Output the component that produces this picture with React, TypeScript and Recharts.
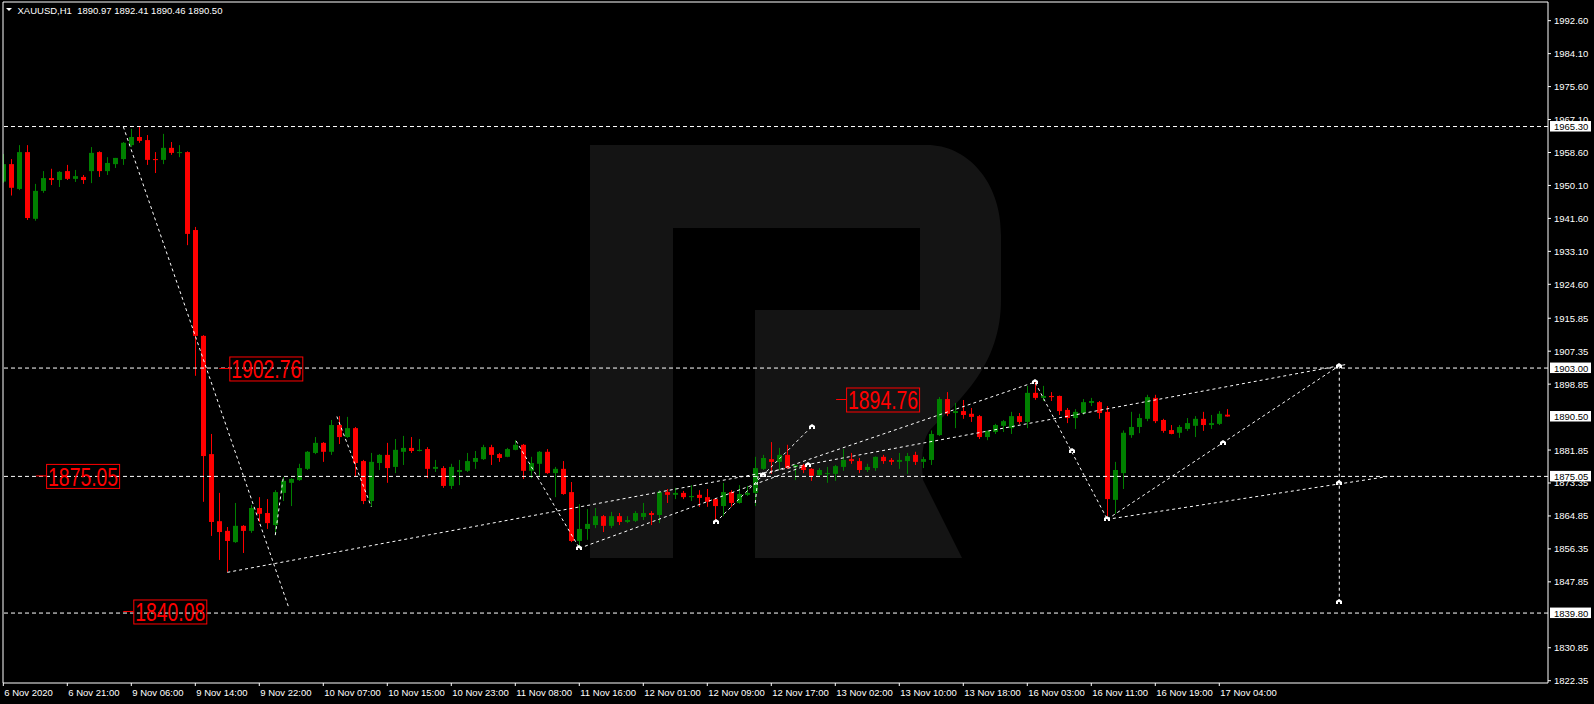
import React from "react";
import { ComposedChart, Bar, XAxis, YAxis, ReferenceLine, ReferenceDot } from "recharts";

const openPrices = [
  1951.1, 1955.6, 1949.2, 1958.7, 1941.5, 1948.7, 1952.0, 1951.5, 1953.8, 1951.8,
  1952.3, 1953.8, 1958.7, 1953.8, 1955.6, 1956.9, 1960.5, 1962.6, 1961.8, 1956.9,
  1956.7, 1959.8, 1958.5, 1958.7, 1938.6, 1911.3, 1880.8, 1863.5, 1861.0, 1858.1,
  1862.3, 1861.0, 1866.9, 1865.6, 1862.5, 1870.8, 1873.4, 1874.1, 1877.0, 1881.1,
  1883.7, 1881.4, 1888.3, 1885.2, 1887.5, 1879.0, 1868.7, 1878.5, 1880.6, 1877.5,
  1881.4, 1882.4, 1881.6, 1882.1, 1877.0, 1877.2, 1872.6, 1876.2, 1876.5, 1878.8,
  1879.5, 1882.6, 1880.8, 1880.1, 1881.9, 1883.2, 1876.5, 1878.3, 1881.4, 1875.9,
  1877.0, 1871.0, 1858.4, 1861.5, 1862.5, 1864.8, 1862.3, 1864.8, 1863.3, 1863.6,
  1864.6, 1865.6, 1865.1, 1871.0, 1870.3, 1870.8, 1869.7, 1870.3, 1869.7, 1869.2,
  1867.4, 1871.0, 1868.2, 1870.3, 1870.8, 1877.0, 1879.5, 1878.8, 1880.6, 1877.5,
  1878.0, 1877.0, 1875.4, 1875.7, 1875.7, 1877.5, 1879.5, 1879.0, 1876.7, 1877.2,
  1880.1, 1879.3, 1878.8, 1879.0, 1880.6, 1878.8, 1879.3, 1885.7, 1895.0, 1891.4,
  1891.9, 1891.2, 1890.6, 1885.2, 1886.5, 1888.1, 1887.5, 1890.6, 1889.1, 1896.6,
  1895.3, 1895.8, 1895.8, 1892.2, 1890.1, 1891.4, 1894.0, 1894.2, 1891.7, 1869.0,
  1875.9, 1885.7, 1887.8, 1889.9, 1895.3, 1889.6, 1887.0, 1886.3, 1887.3, 1888.1,
  1889.9, 1888.3, 1888.6, 1890.97,
];
const highPrices = [
  1958.2, 1956.9, 1960.5, 1960.5, 1950.5, 1953.8, 1954.4, 1953.8, 1955.4, 1954.1,
  1952.8, 1960.0, 1958.9, 1957.4, 1957.2, 1961.3, 1964.7, 1965.3, 1963.1, 1958.7,
  1963.4, 1961.3, 1960.5, 1958.9, 1939.4, 1911.5, 1886.0, 1870.8, 1862.0, 1868.2,
  1862.5, 1867.7, 1869.7, 1869.2, 1871.5, 1874.9, 1874.6, 1878.3, 1881.6, 1885.2,
  1883.9, 1889.6, 1890.6, 1890.4, 1887.8, 1879.3, 1881.1, 1880.8, 1883.7, 1884.7,
  1885.5, 1885.2, 1884.7, 1882.6, 1879.3, 1877.7, 1878.3, 1879.3, 1881.1, 1881.6,
  1883.2, 1883.2, 1881.1, 1882.4, 1884.4, 1883.4, 1880.1, 1881.6, 1882.1, 1877.5,
  1879.0, 1873.6, 1867.9, 1866.6, 1866.9, 1865.1, 1865.9, 1865.6, 1864.8, 1866.1,
  1868.2, 1866.1, 1871.5, 1871.8, 1872.1, 1871.3, 1872.8, 1871.5, 1871.8, 1869.5,
  1873.4, 1871.5, 1872.8, 1872.6, 1880.1, 1880.6, 1883.9, 1882.4, 1883.2, 1878.1,
  1878.3, 1877.2, 1877.2, 1877.5, 1878.0, 1882.1, 1881.1, 1879.8, 1878.3, 1880.2,
  1880.6, 1879.8, 1881.1, 1881.1, 1881.4, 1880.1, 1886.9, 1895.5, 1896.8, 1894.0,
  1894.76, 1892.7, 1890.9, 1886.9, 1888.6, 1889.6, 1891.7, 1891.4, 1898.4, 1899.4,
  1898.4, 1896.8, 1895.9, 1892.7, 1892.4, 1895.0, 1895.3, 1894.5, 1893.2, 1878.8,
  1886.9, 1891.7, 1891.2, 1896.1, 1896.1, 1889.9, 1888.3, 1888.3, 1890.1, 1890.6,
  1891.7, 1890.9, 1891.9, 1892.41,
];
const lowPrices = [
  1950.8, 1947.5, 1948.9, 1941.2, 1941.0, 1948.2, 1950.2, 1949.7, 1951.5, 1951.0,
  1950.5, 1950.7, 1952.3, 1952.8, 1954.6, 1955.4, 1960.0, 1961.1, 1955.4, 1953.3,
  1955.6, 1958.0, 1957.4, 1934.7, 1901.0, 1868.5, 1859.7, 1853.5, 1850.4, 1857.9,
  1855.3, 1860.5, 1863.3, 1861.5, 1859.9, 1868.7, 1867.4, 1873.9, 1876.7, 1880.8,
  1878.8, 1880.6, 1883.4, 1885.0, 1874.9, 1867.9, 1867.2, 1876.7, 1873.4, 1875.9,
  1878.0, 1881.1, 1881.5, 1874.6, 1876.2, 1872.1, 1871.8, 1872.8, 1876.2, 1877.0,
  1879.3, 1878.0, 1878.8, 1880.0, 1881.8, 1874.4, 1874.6, 1874.9, 1875.7, 1869.7,
  1870.3, 1858.1, 1856.8, 1858.7, 1861.7, 1860.7, 1861.7, 1862.5, 1863.0, 1863.3,
  1863.8, 1862.5, 1863.0, 1868.2, 1869.2, 1869.2, 1868.7, 1867.2, 1867.2, 1863.3,
  1864.8, 1867.2, 1868.0, 1870.0, 1867.4, 1876.7, 1875.7, 1876.7, 1877.0, 1874.1,
  1875.9, 1873.9, 1874.9, 1873.4, 1873.9, 1876.5, 1878.3, 1875.9, 1876.2, 1876.5,
  1878.3, 1878.0, 1877.0, 1875.7, 1878.0, 1877.2, 1878.0, 1885.5, 1890.6, 1887.5,
  1889.9, 1889.1, 1884.7, 1884.4, 1886.0, 1886.5, 1886.0, 1888.6, 1887.5, 1894.8,
  1894.5, 1894.5, 1890.9, 1888.8, 1887.3, 1890.9, 1893.2, 1889.9, 1864.8, 1865.4,
  1871.8, 1885.0, 1886.2, 1889.3, 1888.8, 1886.3, 1885.9, 1885.0, 1886.8, 1885.2,
  1886.8, 1887.3, 1888.3, 1890.46,
];
const closePrices = [
  1955.6, 1949.5, 1958.7, 1941.7, 1948.7, 1952.0, 1951.5, 1953.6, 1951.8, 1952.5,
  1951.5, 1958.5, 1953.8, 1955.9, 1957.2, 1961.1, 1962.6, 1961.6, 1956.7, 1956.7,
  1959.8, 1958.5, 1958.7, 1937.6, 1911.3, 1880.3, 1863.3, 1860.7, 1858.4, 1862.3,
  1861.0, 1866.9, 1865.4, 1863.0, 1871.0, 1873.9, 1874.4, 1877.2, 1881.4, 1883.7,
  1881.4, 1888.3, 1885.2, 1887.5, 1878.5, 1868.7, 1878.8, 1880.6, 1877.2, 1881.9,
  1882.4, 1881.6, 1881.9, 1877.0, 1877.5, 1872.6, 1877.5, 1876.7, 1879.0, 1879.8,
  1882.6, 1880.6, 1879.8, 1882.1, 1883.2, 1876.5, 1878.5, 1881.4, 1875.9, 1877.0,
  1870.5, 1858.4, 1861.5, 1862.8, 1864.8, 1862.3, 1864.8, 1863.3, 1863.8, 1865.6,
  1865.6, 1865.1, 1871.0, 1870.3, 1870.8, 1869.7, 1870.0, 1869.5, 1868.5, 1867.4,
  1871.0, 1868.2, 1870.5, 1870.8, 1877.2, 1879.8, 1878.8, 1880.6, 1877.2, 1878.0,
  1876.7, 1875.2, 1876.7, 1875.9, 1877.7, 1879.3, 1879.0, 1876.7, 1877.5, 1880.1,
  1879.0, 1878.8, 1879.3, 1880.3, 1878.8, 1879.5, 1886.0, 1895.0, 1891.2, 1891.9,
  1890.9, 1890.4, 1885.2, 1886.8, 1888.3, 1889.3, 1890.6, 1889.1, 1896.6, 1895.3,
  1895.8, 1895.5, 1891.9, 1890.1, 1891.7, 1894.2, 1894.5, 1891.4, 1869.2, 1876.7,
  1886.3, 1887.8, 1890.1, 1895.5, 1889.3, 1886.8, 1886.0, 1887.8, 1888.8, 1889.9,
  1888.3, 1888.8, 1891.2, 1890.5,
];

const timeLabels = [
  "6 Nov 2020", "6 Nov 21:00", "9 Nov 06:00", "9 Nov 14:00", "9 Nov 22:00",
  "10 Nov 07:00", "10 Nov 15:00", "10 Nov 23:00", "11 Nov 08:00", "11 Nov 16:00",
  "12 Nov 01:00", "12 Nov 09:00", "12 Nov 17:00", "13 Nov 02:00", "13 Nov 10:00",
  "13 Nov 18:00", "16 Nov 03:00", "16 Nov 11:00", "16 Nov 19:00", "17 Nov 04:00",
];
const timeTickBars = [0, 8, 16, 24, 32, 40, 48, 56, 64, 72, 80, 88, 96, 104, 112, 120, 128, 136, 144, 152];

const priceTicks = [
  1992.6, 1984.1, 1975.6, 1967.1, 1958.6, 1950.1, 1941.6, 1933.1, 1924.6, 1915.85,
  1907.35, 1898.85, 1881.85, 1873.35, 1864.85, 1856.35, 1847.85, 1830.85, 1822.35,
];

const levelPrices = [1965.3, 1903.0, 1875.05, 1839.8];
const axisTagPrices = [1965.3, 1903.0, 1890.5, 1875.05, 1839.8];

const noteTexts = ["1902.76", "1875.05", "1840.08", "1894.76"];
const notePrices = [1902.76, 1875.05, 1840.08, 1894.76];
const noteBars = [27.0, 4.1, 15.0, 104.1];

const trendFromBars = [15.0, 28.0, 64.1, 95.0, 129.0, 138.0, 138.7, 167.0, 72.0, 89.05, 94.0, 34.0, 41.7];
const trendFromPrices = [1965.26, 1850.3, 1884.2, 1875.4, 1899.2, 1864.0, 1864.2, 1903.6, 1856.5, 1863.2, 1868.2, 1859.9, 1890.5];
const trendToBars = [35.7, 167.8, 72.0, 128.7, 138.0, 167.0, 173.0, 167.0, 100.55, 101.05, 94.35, 35.0, 46.0];
const trendToPrices = [1841.1, 1903.9, 1856.6, 1899.2, 1864.0, 1903.6, 1875.0, 1842.6, 1878.0, 1887.9, 1875.2, 1874.9, 1867.2];

const markerBars = [72.0, 89.05, 95.0, 100.55, 101.05, 129.0, 133.55, 138.0, 152.5, 167.0, 167.0, 167.0];
const markerPrices = [1856.5, 1863.2, 1875.4, 1878.0, 1887.9, 1899.3, 1881.6, 1864.0, 1883.6, 1903.6, 1873.3, 1842.6];

const header = "XAUUSD,H1  1890.97 1892.41 1890.46 1890.50";

const candles = openPrices.map((o, i) => ({
  bar: i,
  o,
  h: highPrices[i],
  l: lowPrices[i],
  c: closePrices[i],
}));

const FONT = "'Liberation Sans', Arial, sans-serif";
const X_MIN = -0.0375;
const X_MAX = 193.09;
const Y_MIN = 1821.76;
const Y_MAX = 1997.42;

const Candle = (props: any) => {
  const { x, y, width, height, payload } = props;
  if (payload == null || x == null) return <g />;
  const { o, h, l, c } = payload;
  const up = c >= o;
  const col = up ? "#008000" : "#ff0000";
  const top = Math.min(y, y + height);
  const hh = Math.abs(height);
  const k = h - l > 0 ? hh / (h - l) : 0;
  const cx = Math.round(x + width / 2) + 0.5;
  const yO = top + (h - o) * k;
  const yC = top + (h - c) * k;
  const bt = Math.min(yO, yC);
  const bb = Math.max(yO, yC);
  return (
    <g>
      <line x1={cx} x2={cx} y1={top} y2={top + hh} stroke={col} strokeWidth={1} />
      <rect x={cx - 2.5} y={bt} width={5} height={Math.max(1, bb - bt)} fill={col} />
    </g>
  );
};

const XTick = (p: any) => {
  const { x, y, payload } = p;
  const idx = timeTickBars.indexOf(payload.value);
  return (
    <text x={x + 1} y={y + 8} fill="#ffffff" fontSize={9.5} fontFamily={FONT} textAnchor="start">
      {timeLabels[idx]}
    </text>
  );
};

const YTick = (p: any) => {
  const { x, y, payload } = p;
  return (
    <text x={x} y={y + 3.5} fill="#ffffff" fontSize={9.5} fontFamily={FONT} textAnchor="start">
      {payload.value.toFixed(2)}
    </text>
  );
};

const makeNote = (text: string) => (p: any) => {
  const { cx, cy } = p;
  return (
    <g>
      <line x1={cx} x2={cx + 10} y1={cy - 0.5} y2={cy - 0.5} stroke="#ff0000" strokeWidth={1} />
      <rect x={cx + 10.5} y={cy - 12} width={73} height={24} fill="none" stroke="#ff0000" strokeWidth={1} />
      <text
        x={cx + 12}
        y={cy + 9.5}
        fontSize={25}
        fill="#ff0000"
        fontFamily={FONT}
        textLength={70}
        lengthAdjust="spacingAndGlyphs"
      >
        {text}
      </text>
    </g>
  );
};

const makeTag = (value: number) => (p: any) => {
  const { cx, cy } = p;
  return (
    <g>
      <rect x={cx + 2} y={cy - 5.5} width={41} height={10.5} fill="#ffffff" />
      <text x={cx + 6} y={cy + 3.5} fontSize={9.5} fill="#000000" fontFamily={FONT}>
        {value.toFixed(2)}
      </text>
    </g>
  );
};

const Marker = (p: any) => {
  const { cx, cy } = p;
  const x = Math.round(cx);
  const y = Math.round(cy);
  return (
    <path
      d={`M${x - 3},${y + 2} L${x - 3},${y - 1} L${x},${y - 3} L${x + 3},${y - 1} L${x + 3},${y + 2} L${x + 1},${y + 2} L${x + 1},${y} L${x - 1},${y} L${x - 1},${y + 2} Z`}
      fill="#ffffff"
    />
  );
};

export default function App() {
  return (
    <div
      style={{
        position: "absolute",
        left: 0,
        top: 0,
        width: 1594,
        height: 704,
        background: "#000000",
        overflow: "hidden",
      }}
    >
      <svg width={1594} height={704} style={{ position: "absolute", left: 0, top: 0 }}>
        <path
          d="M590,145 L927,145 C966,145 1001,180 1001,235 L1001,300 C1001,365 960,400 930,430 C922,440 921,460 923,480 L962,558 L755,558 L755,310 L920,310 L920,228 L673,228 L673,558 L590,558 Z"
          fill="#141414"
        />
      </svg>
      <div style={{ position: "absolute", left: 0, top: 0 }}>
        <ComposedChart
          width={1594}
          height={704}
          data={candles}
          margin={{ top: 2, right: 0, bottom: 0, left: 3 }}
        >
          <XAxis
            dataKey="bar"
            type="number"
            domain={[X_MIN, X_MAX]}
            allowDataOverflow
            ticks={timeTickBars}
            interval={0}
            height={21}
            tickSize={3}
            tickMargin={2}
            axisLine={{ stroke: "#ffffff" }}
            tickLine={{ stroke: "#ffffff" }}
            tick={<XTick />}
          />
          <YAxis
            orientation="right"
            type="number"
            domain={[Y_MIN, Y_MAX]}
            allowDataOverflow
            ticks={priceTicks}
            interval={0}
            width={46}
            tickSize={3}
            tickMargin={3}
            axisLine={{ stroke: "#ffffff" }}
            tickLine={{ stroke: "#ffffff" }}
            tick={<YTick />}
          />
          <ReferenceLine x={X_MIN} stroke="#ffffff" ifOverflow="visible" />
          <ReferenceLine y={Y_MAX} stroke="#ffffff" ifOverflow="visible" />
          {levelPrices.map((v, i) => (
            <ReferenceLine key={"lv" + i} y={v} stroke="#ffffff" strokeDasharray="4 3" />
          ))}
          {trendFromBars.map((b, i) => (
            <ReferenceLine
              key={"tr" + i}
              segment={[
                { x: b, y: trendFromPrices[i] },
                { x: trendToBars[i], y: trendToPrices[i] },
              ]}
              stroke="#ffffff"
              strokeDasharray="3 3"
              ifOverflow="visible"
            />
          ))}
          <Bar
            dataKey={(d: any) => [d.l, d.h]}
            barSize={5}
            isAnimationActive={false}
            shape={<Candle />}
          />
          {markerBars.map((b, i) => (
            <ReferenceDot
              key={"mk" + i}
              x={b}
              y={markerPrices[i]}
              r={3}
              ifOverflow="visible"
              shape={<Marker />}
            />
          ))}
          {noteTexts.map((t, i) => (
            <ReferenceDot
              key={"nt" + i}
              x={noteBars[i]}
              y={notePrices[i]}
              r={3}
              ifOverflow="visible"
              shape={makeNote(t)}
            />
          ))}
          {axisTagPrices.map((v, i) => (
            <ReferenceDot
              key={"tg" + i}
              x={X_MAX}
              y={v}
              r={3}
              ifOverflow="visible"
              shape={makeTag(v)}
            />
          ))}
        </ComposedChart>
      </div>
      <svg width={300} height={20} style={{ position: "absolute", left: 0, top: 0 }}>
        <path d="M6,8 L12,8 L9,11 Z" fill="#ffffff" />
        <text x={17.5} y={14} fontSize={9.5} fill="#ffffff" fontFamily={FONT} style={{ whiteSpace: "pre" }}>
          {header}
        </text>
      </svg>
    </div>
  );
}
